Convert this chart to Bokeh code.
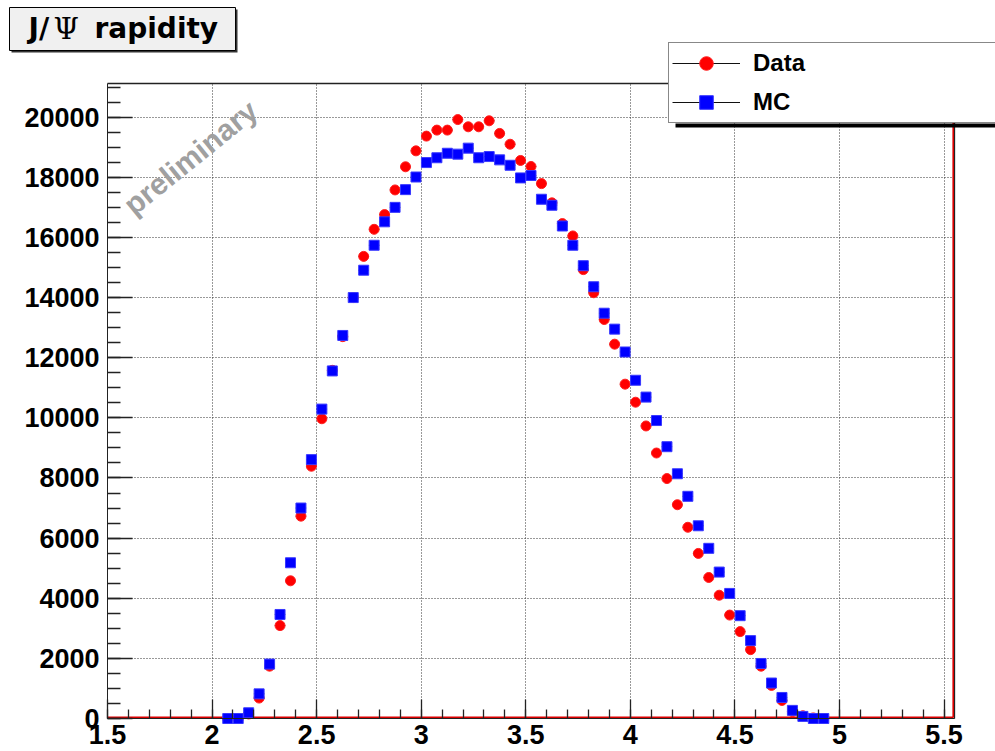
import numpy as np
from bokeh.plotting import figure
from bokeh.models import (Range1d, SingleIntervalTicker, CustomJSTickFormatter, Label,
                          BoxAnnotation, Legend, LegendItem, ColumnDataSource)
from bokeh.embed import file_html
from bokeh.resources import INLINE

# ---------------- data ----------------
bin_centers = [2.075, 2.125, 2.175, 2.225, 2.275, 2.325, 2.375, 2.425, 2.475, 2.525,
               2.575, 2.625, 2.675, 2.725, 2.775, 2.825, 2.875, 2.925, 2.975, 3.025,
               3.075, 3.125, 3.175, 3.225, 3.275, 3.325, 3.375, 3.425, 3.475, 3.525,
               3.575, 3.625, 3.675, 3.725, 3.775, 3.825, 3.875, 3.925, 3.975, 4.025,
               4.075, 4.125, 4.175, 4.225, 4.275, 4.325, 4.375, 4.425, 4.475, 4.525,
               4.575, 4.625, 4.675, 4.725, 4.775, 4.825, 4.875, 4.925]
bin_half_width = 0.025

data_counts = [0, 0, 150, 680, 1740, 3090, 4580, 6730, 8390, 9970,
               11580, 12700, 14000, 15370, 16270, 16760, 17580, 18350, 18880, 19370,
               19570, 19570, 19920, 19680, 19680, 19880, 19460, 19100, 18560, 18360,
               17790, 17150, 16460, 16050, 14930, 14160, 13270, 12450, 11120, 10520,
               9730, 8830, 7980, 7110, 6360, 5490, 4690, 4100, 3440, 2890,
               2290, 1740, 1100, 600, 230, 90, 20, 0]

mc_counts = [0, 0, 190, 820, 1810, 3460, 5180, 7000, 8610, 10290,
             11560, 12740, 14000, 14910, 15740, 16520, 17000, 17590, 18010, 18490,
             18650, 18800, 18770, 18970, 18650, 18690, 18580, 18400, 17980, 18060,
             17270, 17070, 16380, 15740, 15060, 14360, 13480, 12950, 12190, 11250,
             10690, 9910, 9040, 8140, 7390, 6410, 5660, 4870, 4160, 3420,
             2590, 1830, 1180, 700, 270, 70, 0, 0]

series_names = ["Data", "MC"]
title_parts = ["J/", "\u03a8", "rapidity"]
watermark_text = "preliminary"

x_lo, x_hi = 1.5, 5.55      # axis extent
y_lo, y_hi = 0, 21120

# ---------------- geometry: the frame fills the canvas, axes are fixed ----------------
W, H = 995, 751
FRAME_L, FRAME_R, FRAME_T, FRAME_B = 107, 954, 83, 718   # axis box in canvas px
ppx = (FRAME_R - FRAME_L) / (x_hi - x_lo)
ppy = (FRAME_B - FRAME_T) / (y_hi - y_lo)
x_start = x_lo - FRAME_L / ppx
x_end = x_hi + (W - FRAME_R) / ppx
y_start = y_lo - (H - FRAME_B) / ppy
y_end = y_hi + FRAME_T / ppy


def dx(px):   # canvas px -> data x
    return x_start + px / ppx


def dy(py):   # canvas px (from top) -> data y
    return y_end - py / ppy


p = figure(width=W, height=H, output_backend="svg", toolbar_location=None,
           x_range=Range1d(x_start, x_end), y_range=Range1d(y_start, y_end),
           min_border=0, min_border_left=0, min_border_right=0,
           min_border_top=0, min_border_bottom=0,
           background_fill_color="white", border_fill_color="white")
p.outline_line_color = None

xt = SingleIntervalTicker(interval=0.5, num_minor_ticks=5)
yt = SingleIntervalTicker(interval=2000, num_minor_ticks=4)
xa = p.xaxis[0]
ya = p.yaxis[0]
xa.ticker = xt
ya.ticker = yt
xa.formatter = CustomJSTickFormatter(code="return Number(tick.toFixed(3)).toString();")
xa.fixed_location = y_lo
ya.fixed_location = x_lo
xa.bounds = (x_lo, x_hi)
ya.bounds = (y_lo, y_hi)

for ax in (xa, ya):
    ax.axis_line_color = "#222222"
    ax.axis_line_width = 1
    ax.major_tick_out = 0
    ax.minor_tick_out = 0
    ax.major_tick_line_color = "#222222"
    ax.minor_tick_line_color = "#222222"
    ax.major_tick_line_width = 1.3
    ax.minor_tick_line_width = 1.3
    ax.major_label_text_font = "Liberation Sans"
    ax.major_label_text_font_style = "bold"
    ax.major_label_text_font_size = "27px"
    ax.major_label_text_color = "black"
xa.major_tick_in = 19
xa.minor_tick_in = 9
ya.major_tick_in = 25
ya.minor_tick_in = 13
xa.major_label_standoff = 6
ya.major_label_standoff = 8

gx = p.xgrid[0]
gy = p.ygrid[0]
gx.ticker = xt
gy.ticker = yt
gx.bounds = (x_lo, x_hi)
gx.cross_bounds = (y_lo, y_hi)
gy.bounds = (y_lo, y_hi)
gy.cross_bounds = (x_lo, x_hi)
p.grid.grid_line_color = "#333333"
p.grid.grid_line_dash = "1 2"
p.grid.grid_line_width = 1

# ---------------- frame top/right and red histogram outline ----------------
p.line(x=[x_lo, x_hi, x_hi], y=[y_hi, y_hi, y_lo], line_color="#222222", line_width=1.3)
edge = x_hi - 1.3 / ppx
base = y_lo + 1.2 / ppy
p.line(x=[x_lo, edge, edge], y=[base, base, y_hi], line_color="#dd0000", line_width=1.6)

# ---------------- error bars and markers ----------------
x = np.array(bin_centers)
yd = np.array(data_counts, dtype=float)
ym = np.array(mc_counts, dtype=float)

src_d = ColumnDataSource(dict(x=x, y=yd, x0=x - bin_half_width, x1=x + bin_half_width,
                              ylo=yd - np.sqrt(yd), yhi=yd + np.sqrt(yd)))
src_m = ColumnDataSource(dict(x=x, y=ym, x0=x - bin_half_width, x1=x + bin_half_width,
                              ylo=ym - np.sqrt(ym), yhi=ym + np.sqrt(ym)))

hbars = []
for src in (src_d, src_m):
    hbars.append(p.segment(x0="x0", y0="y", x1="x1", y1="y", source=src,
                           line_color="#111111", line_width=1))
    p.segment(x0="x", y0="ylo", x1="x", y1="yhi", source=src, line_color="#111111", line_width=1)

r_data = p.scatter("x", "y", source=src_d, marker="circle", size=10,
                   fill_color="#ff0000", line_color="#ff2020", line_width=1)
r_mc = p.scatter("x", "y", source=src_m, marker="square", size=10,
                 fill_color="#0000ff", line_color="#3838ff", line_width=1)

# ---------------- watermark ----------------
p.add_layout(Label(x=dx(190), y=dy(157), text=watermark_text, angle=39, angle_units="deg",
                   text_align="center", text_baseline="middle",
                   text_font="Liberation Sans", text_font_style="bold",
                   text_font_size="30px", text_color="#a0a0a0"))

# ---------------- title box ----------------
p.add_layout(BoxAnnotation(left=dx(11), right=dx(237), top=dy(9), bottom=dy(52),
                           fill_color="#333333", fill_alpha=1, line_alpha=0))
p.add_layout(BoxAnnotation(left=dx(9), right=dx(235), top=dy(7), bottom=dy(50),
                           fill_color="#f0f0f0", fill_alpha=1,
                           line_color="black", line_alpha=1, line_width=1))
title_x = [28, 53, 94]
for txt, tx in zip(title_parts, title_x):
    is_psi = txt == "\u03a8"
    p.add_layout(Label(x=dx(tx), y=dy(28), text=txt,
                       text_align="left", text_baseline="alphabetic",
                       text_font="DejaVu Serif" if is_psi else "DejaVu Sans",
                       text_font_style="normal" if is_psi else "bold",
                       text_font_size="29px" if is_psi else "28px",
                       text_color="black"))

# ---------------- legend ----------------
p.add_layout(BoxAnnotation(left=dx(675), right=dx(1000), top=dy(123), bottom=dy(127),
                           fill_color="black", fill_alpha=1, line_alpha=0))
legend = Legend(items=[LegendItem(label=series_names[0], renderers=[hbars[0], r_data]),
                       LegendItem(label=series_names[1], renderers=[hbars[1], r_mc])],
                location=(668, H - 123), orientation="vertical",
                border_line_color="#111111", border_line_width=1,
                background_fill_color="white", background_fill_alpha=1,
                padding=3, spacing=5, margin=0,
                glyph_width=68, glyph_height=34, label_height=34, label_width=280,
                label_standoff=13, label_text_font="Liberation Sans",
                label_text_font_style="bold", label_text_font_size="24px",
                label_text_color="black")
p.add_layout(legend, "center")

open("out.html", "w").write(file_html(p, INLINE))
